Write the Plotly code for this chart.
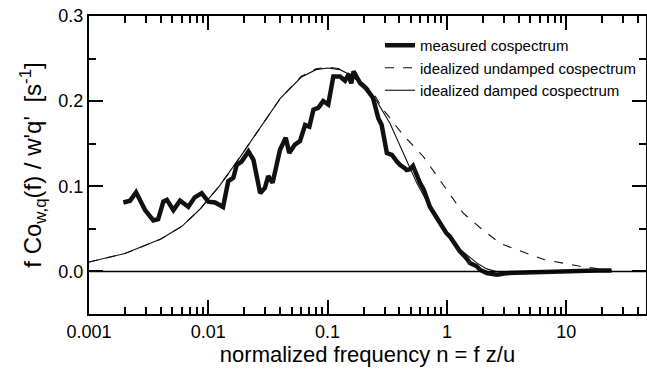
import math
import plotly.graph_objects as go

# ---- data ----
n_measured = [0.00194, 0.00221, 0.00248, 0.00295, 0.00346, 0.0038, 0.0042, 0.0045, 0.0051, 0.0058,
              0.0068, 0.0077, 0.0088, 0.0100, 0.0114, 0.0133, 0.0147, 0.0162, 0.0173, 0.0190,
              0.0217, 0.0239, 0.0272, 0.0298, 0.0318, 0.0346, 0.0399, 0.0446, 0.0477, 0.0532,
              0.0587, 0.0648, 0.0703, 0.0761, 0.0835, 0.0919, 0.1013, 0.1117, 0.127, 0.140,
              0.149, 0.158, 0.165, 0.188, 0.21, 0.24, 0.266, 0.284, 0.314, 0.346,
              0.381, 0.406, 0.446, 0.46, 0.49, 0.52, 0.594, 0.64, 0.72, 0.82,
              0.87, 0.99, 1.06, 1.21, 1.28, 1.47, 1.56, 1.78, 1.89, 2.16,
              2.63, 3.2, 5.0, 9.5, 18, 24]
v_measured = [0.081, 0.083, 0.093, 0.072, 0.060, 0.0615, 0.082, 0.084, 0.072, 0.083,
              0.076, 0.087, 0.092, 0.082, 0.081, 0.0756, 0.106, 0.110, 0.125, 0.129,
              0.141, 0.131, 0.092, 0.098, 0.112, 0.104, 0.143, 0.157, 0.139, 0.149,
              0.153, 0.172, 0.170, 0.190, 0.192, 0.200, 0.196, 0.229, 0.229, 0.224,
              0.231, 0.221, 0.235, 0.221, 0.215, 0.204, 0.180, 0.172, 0.139, 0.137,
              0.129, 0.125, 0.121, 0.119, 0.120, 0.124, 0.104, 0.096, 0.076, 0.063,
              0.059, 0.045, 0.041, 0.029, 0.024, 0.015, 0.0099, 0.006, 0.002, -0.002,
              -0.004, -0.002, -0.001, 0.0, 0.001, 0.001]

n_undamped = [0.001, 0.002, 0.004, 0.006, 0.0085, 0.0125, 0.0184, 0.027, 0.040, 0.060,
              0.080, 0.100, 0.127, 0.154, 0.198, 0.24, 0.293, 0.431, 0.634, 0.95,
              1.37, 1.95, 2.79, 3.6, 6.5, 13, 20, 24]
v_undamped = [0.011, 0.021, 0.038, 0.053, 0.073, 0.101, 0.134, 0.168, 0.203, 0.229,
              0.238, 0.240, 0.238, 0.232, 0.221, 0.210, 0.190, 0.160, 0.135, 0.100,
              0.0685, 0.050, 0.033, 0.027, 0.014, 0.006, 0.002, 0.001]

n_damped = [0.001, 0.002, 0.004, 0.006, 0.0085, 0.0125, 0.0184, 0.027, 0.040, 0.060,
            0.080, 0.100, 0.127, 0.154, 0.198, 0.258, 0.333, 0.431, 0.558, 0.821,
            1.21, 1.78, 2.16, 2.6, 3.2, 5.0, 10, 24]
v_damped = [0.011, 0.021, 0.038, 0.053, 0.073, 0.101, 0.134, 0.168, 0.203, 0.228,
            0.237, 0.239, 0.237, 0.231, 0.219, 0.200, 0.174, 0.139, 0.104, 0.061,
            0.029, 0.010, 0.003, 0.0, -0.002, -0.001, 0.0, 0.001]

x_tickvals = [0.001, 0.01, 0.1, 1, 10]
x_ticktext = ["0.001", "0.01", "0.1", "1", "10"]
x_minor_digits = [2, 3, 4, 5, 6, 7, 8, 9]
y_tickvals = [0.0, 0.1, 0.2, 0.3]
y_ticktext = ["0.0", "0.1", "0.2", "0.3"]
y_minor_vals = [-0.05, 0.05, 0.15, 0.25]

legend_names = ["measured cospectrum", "idealized undamped cospectrum", "idealized damped cospectrum"]
x_title = "normalized frequency n = f z/u"
y_title = "f Co<sub>w,q</sub>(f) / w'q'  [s<sup>-1</sup>]"

FONT = "Liberation Sans, Arial, Helvetica, sans-serif"
L, R, T, B = 89, 646, 16, 314
X_RANGE = [-3, 1.669]
Y_RANGE = [-0.05, 0.3]
W, H = R - L, B - T

fig = go.Figure()
styles = [dict(color="#111111", width=4.5),
          dict(color="#111111", width=1.1, dash="dash"),
          dict(color="#111111", width=1.1)]
for xs, ys, name, st in zip([n_measured, n_undamped, n_damped],
                            [v_measured, v_undamped, v_damped], legend_names, styles):
    fig.add_trace(go.Scatter(x=xs, y=ys, mode="lines", name=name, line=st))

x_minor_vals = [d * m for d in x_tickvals for m in x_minor_digits
                if math.log10(d * m) < X_RANGE[1]]

axis_common = dict(showline=True, linecolor="black", linewidth=2.2, mirror="allticks",
                   ticks="inside", ticklen=14, tickwidth=1.8, tickcolor="black",
                   showgrid=False, automargin=False, layer="above traces",
                   tickfont=dict(family=FONT, size=18, color="black"))

fig.update_xaxes(type="log", range=X_RANGE, tickmode="array", tickvals=x_tickvals, ticktext=x_ticktext,
                 minor=dict(ticks="inside", ticklen=7, tickwidth=1.6, tickcolor="black",
                            tickmode="array", tickvals=x_minor_vals, showgrid=False),
                 title=dict(text=x_title, standoff=4, font=dict(family=FONT, size=22, color="black")),
                 zeroline=False, **axis_common)
fig.update_yaxes(range=Y_RANGE, tickmode="array", tickvals=y_tickvals, ticktext=y_ticktext,
                 minor=dict(ticks="inside", ticklen=7, tickwidth=1.6, tickcolor="black",
                            tickmode="array", tickvals=y_minor_vals, showgrid=False),
                 title=dict(text=y_title, standoff=10, font=dict(family=FONT, size=24, color="black")),
                 zeroline=False, **axis_common)

# zero reference line across the plot
fig.add_hline(y=0, line=dict(color="black", width=1.5))

fig.update_layout(width=647, height=373, margin=dict(l=L, r=647 - R, t=T, b=373 - B),
                  paper_bgcolor="white", plot_bgcolor="white", showlegend=True,
                  legend=dict(x=(380 - L) / W, y=(B - 29) / H, xanchor="left", yanchor="top",
                              bgcolor="rgba(0,0,0,0)", font=dict(family=FONT, size=15, color="black"),
                              tracegroupgap=0))

fig.write_html("out.html")
